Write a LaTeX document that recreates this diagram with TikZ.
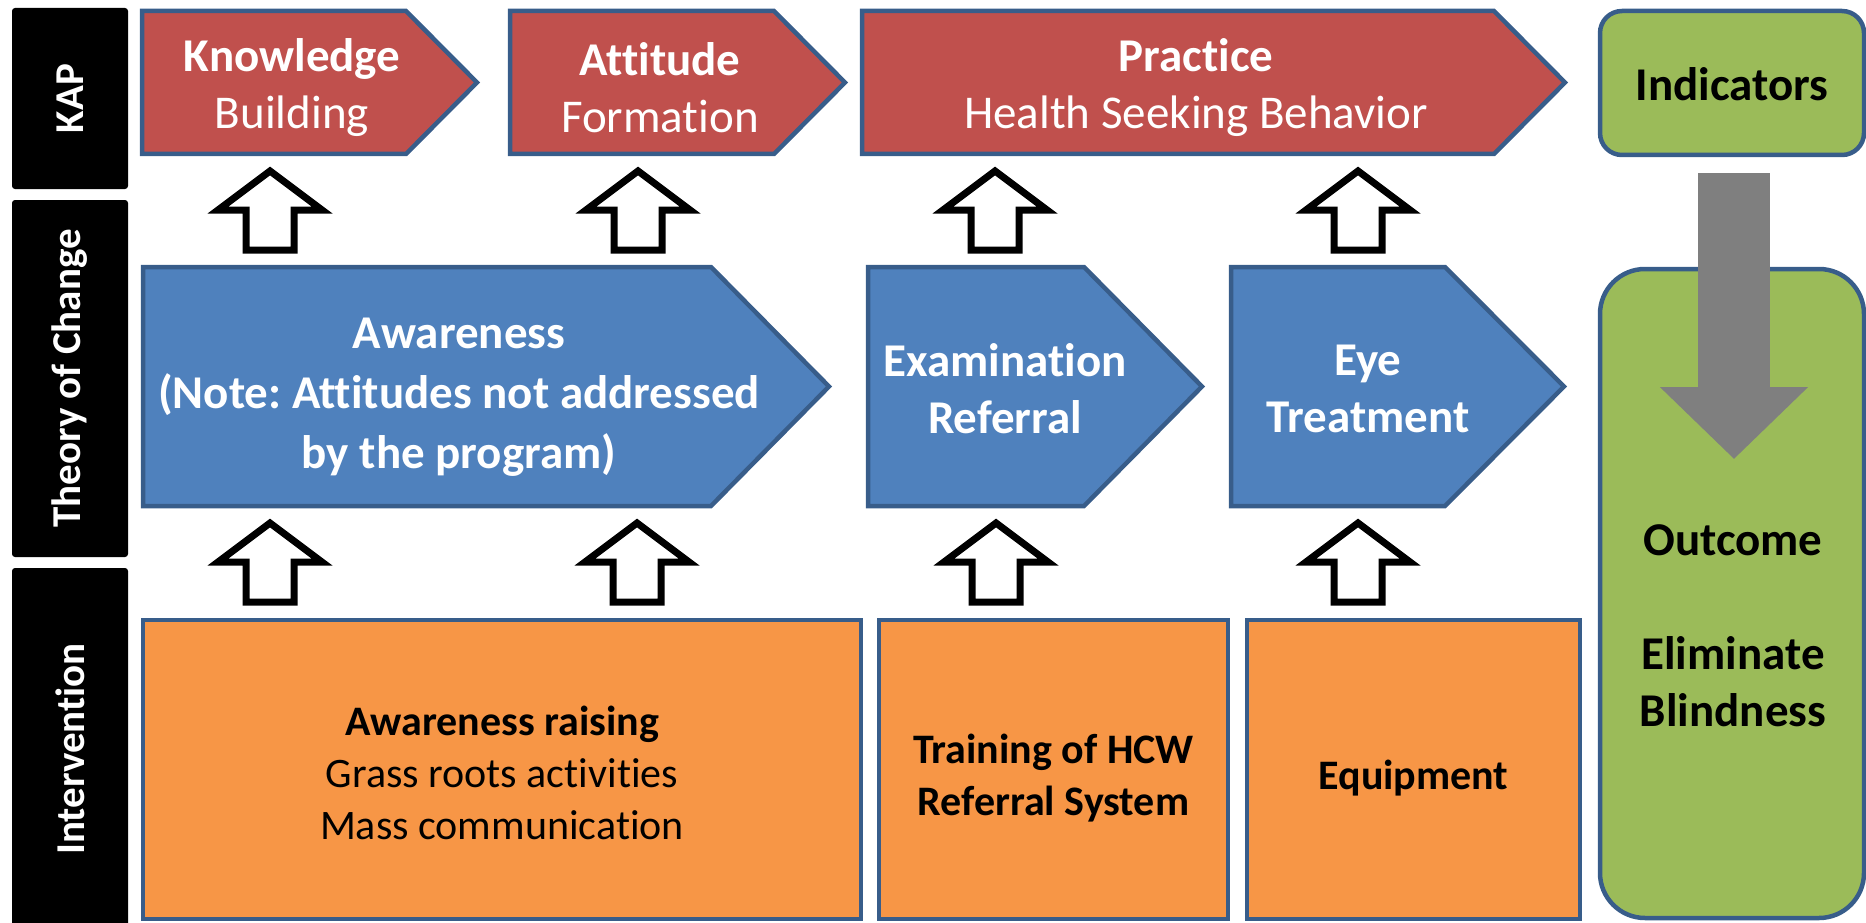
\documentclass[tikz,border=0pt]{standalone}
\usepackage{fontspec}
\setmainfont{Carlito}[Ligatures=NoCommon]
\usepackage{xcolor}
\usetikzlibrary{arrows.meta}
\frenchspacing
\definecolor{sideBgColor}{HTML}{000000}
\definecolor{sideTextColor}{HTML}{FFFFFF}
\definecolor{kapBgColor}{HTML}{C0504D}
\definecolor{tocBgColor}{HTML}{4F81BD}
\definecolor{intBgColor}{HTML}{F79646}
\definecolor{resBgColor}{HTML}{9BBB59}
\definecolor{boxLineColor}{HTML}{385D8A}
\definecolor{flowColor}{HTML}{7F7F7F}
\def\textKAP{KAP}
\def\textTOC{Theory of Change}
\def\textINT{Intervention}

\tikzset{
  sidebox/.style={fill=sideBgColor, rounded corners=3pt, rotate=90,
    text=sideTextColor, font=\fontsize{41}{49}\selectfont\bfseries},
  kapbox/.style={fill=kapBgColor, draw=boxLineColor, line width=4.5pt, line join=miter},
  tocbox/.style={fill=tocBgColor, draw=boxLineColor, line width=4.5pt, line join=miter},
  intbox/.style={fill=intBgColor, draw=boxLineColor, line width=4pt},
  inttext/.style={align=center, font=\fontsize{42}{52}\selectfont},
  resbox/.style={fill=resBgColor, draw=boxLineColor, line width=4.5pt},
  restext/.style={align=center, font=\fontsize{47}{57}\selectfont\bfseries},
  boxtext/.style={text=white, align=center, font=\fontsize{47}{57}\selectfont},
  hollowarrow/.style={draw=black, fill=white, line width=7pt, line join=miter},
  flowarrow/.style={draw=flowColor, line width=72pt, -{Triangle[width=144pt, length=72pt]}}
}

\begin{document}
\begin{tikzpicture}[x=1pt,y=-1pt]
\useasboundingbox (0,0) rectangle (1866,923);
\clip (0,0) rectangle (1866,923);

% row labels
\begin{scope}
\node[sidebox, minimum width=181, minimum height=116] (kap) at (70,98.5) {\textKAP};
\node[sidebox, minimum width=357, minimum height=116] (toc) at (70,378.5) {\textTOC};
\node[sidebox, minimum width=362, minimum height=116] (int) at (70,749) {\textINT};
\end{scope}

% KAP layer
\begin{scope}
\draw[kapbox] (142,11) -- (406,11) -- (477,82.5) -- (406,154) -- (142,154) -- cycle;
\node[boxtext] (know) at (292,88) {\textbf{Knowledge}\\Building};
\draw[kapbox] (510,11) -- (774,11) -- (845,82.5) -- (774,154) -- (510,154) -- cycle;
\node[boxtext] (att) at (660,88) {\textbf{Attitude}\\Formation};
\draw[kapbox] (862,11) -- (1494,11) -- (1565,82.5) -- (1494,154) -- (862,154) -- cycle;
\node[boxtext] (prac) at (1196,88) {\textbf{Practice}\\Health Seeking Behavior};
\end{scope}

% theory of change layer
\begin{scope}
\draw[tocbox] (143,267) -- (711,267) -- (829,386.5) -- (711,506) -- (143,506) -- cycle;
\node[boxtext, font=\fontsize{47}{60}\selectfont\bfseries] (aware) at (459,397)
{Awareness\\(Note: Attitudes not addressed\\by the program)};
\draw[tocbox] (868,267) -- (1084,267) -- (1202,386.5) -- (1084,506) -- (868,506) -- cycle;
\node[boxtext, font=\fontsize{47}{57}\selectfont\bfseries] (exam) at (1005,389)
{Examination\\Referral};
\draw[tocbox] (1231,267) -- (1445,267) -- (1564,386.5) -- (1445,506) -- (1231,506) -- cycle;
\node[boxtext, font=\fontsize{47}{57}\selectfont\bfseries] (eye) at (1368,389)
{Eye\\Treatment};
\end{scope}

% intervention layer
\begin{scope}
\node[intbox, minimum width=718, minimum height=299] (raise) at (502,769.5) {};
\node[inttext] (raiseText) at ([yshift=-3pt]raise.center)
{\textbf{Awareness raising}\\Grass roots activities\\Mass communication};
\node[intbox, minimum width=349, minimum height=299] (train) at (1053.5,769.5) {};
\node[inttext, font=\fontsize{42}{52}\selectfont\bfseries] (trainText) at ([yshift=-9pt]train.center)
{Training of HCW\\Referral System};
\node[intbox, minimum width=333, minimum height=299] (equip) at (1413.5,769.5) {};
\node[inttext, font=\fontsize{42}{52}\selectfont\bfseries] (equipText) at ([yshift=-9pt]equip.center)
{Equipment};
\end{scope}

% indicators and outcome
\begin{scope}
\node[resbox, rounded corners=22pt, minimum width=264, minimum height=144] (ind) at (1732,83) {};
\node[restext] (indText) at ([yshift=-1pt]ind.center) {Indicators};
\node[resbox, rounded corners=45pt, minimum width=264, minimum height=649] (out) at (1732,593.5) {};
\node[restext] (outText) at (1733,625.5) {Outcome\\[57pt]Eliminate\\Blindness};
\coordinate (outTip) at (1734,459);
\draw[flowarrow] ([yshift=-16pt]ind.south -| outTip) -- (outTip);
\end{scope}

% hollow arrows, upper row
\begin{scope}[shift={(270,171)}]
\draw[hollowarrow] (0,0) -- (52,39) -- (24,39) -- (24,79) -- (-24,79) -- (-24,39) -- (-52,39) -- cycle;
\end{scope}
\begin{scope}[shift={(638,171)}]
\draw[hollowarrow] (0,0) -- (52,39) -- (24,39) -- (24,79) -- (-24,79) -- (-24,39) -- (-52,39) -- cycle;
\end{scope}
\begin{scope}[shift={(995,171)}]
\draw[hollowarrow] (0,0) -- (52,39) -- (24,39) -- (24,79) -- (-24,79) -- (-24,39) -- (-52,39) -- cycle;
\end{scope}
\begin{scope}[shift={(1358,171)}]
\draw[hollowarrow] (0,0) -- (52,39) -- (24,39) -- (24,79) -- (-24,79) -- (-24,39) -- (-52,39) -- cycle;
\end{scope}

% hollow arrows, lower row
\begin{scope}[shift={(270,523)}]
\draw[hollowarrow] (0,0) -- (52,39) -- (24,39) -- (24,79) -- (-24,79) -- (-24,39) -- (-52,39) -- cycle;
\end{scope}
\begin{scope}[shift={(637,523)}]
\draw[hollowarrow] (0,0) -- (52,39) -- (24,39) -- (24,79) -- (-24,79) -- (-24,39) -- (-52,39) -- cycle;
\end{scope}
\begin{scope}[shift={(996,523)}]
\draw[hollowarrow] (0,0) -- (52,39) -- (24,39) -- (24,79) -- (-24,79) -- (-24,39) -- (-52,39) -- cycle;
\end{scope}
\begin{scope}[shift={(1358,523)}]
\draw[hollowarrow] (0,0) -- (52,39) -- (24,39) -- (24,79) -- (-24,79) -- (-24,39) -- (-52,39) -- cycle;
\end{scope}

\end{tikzpicture}
\end{document}
